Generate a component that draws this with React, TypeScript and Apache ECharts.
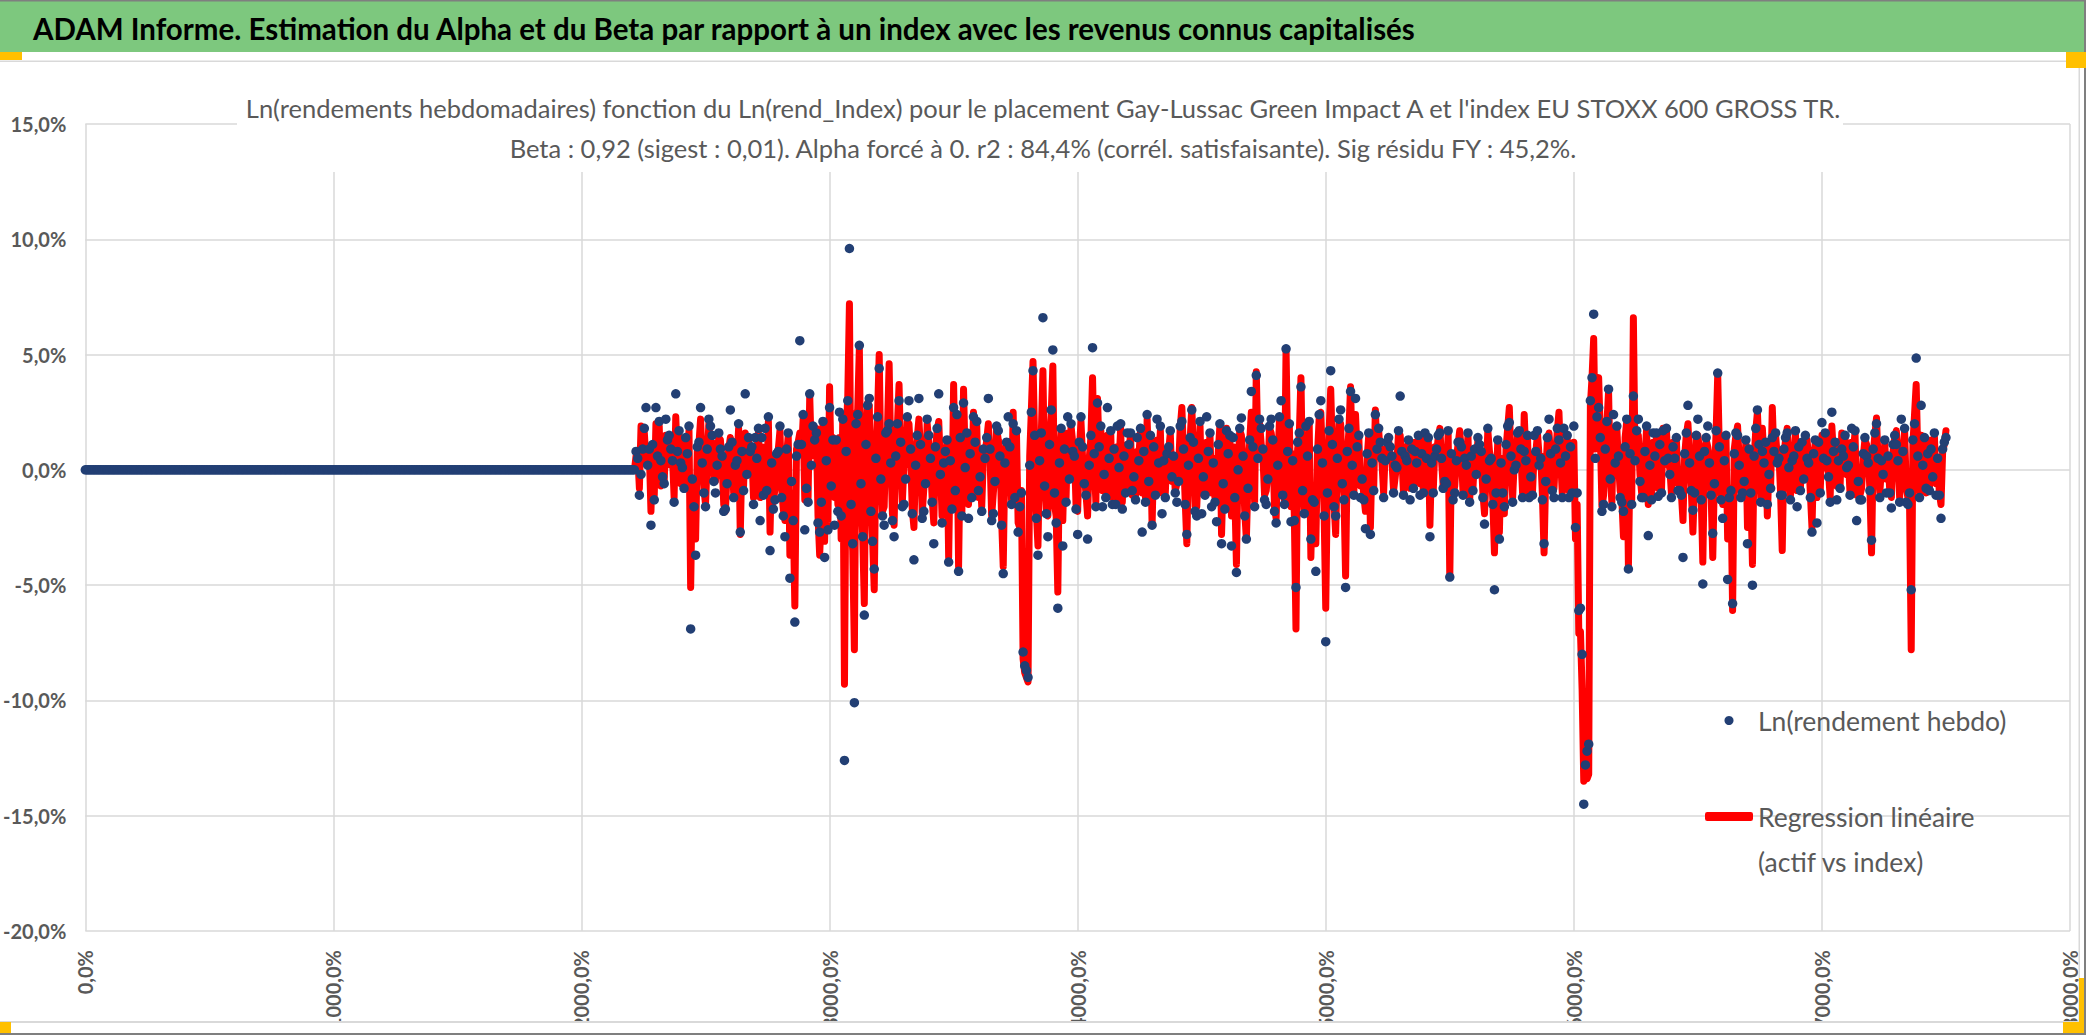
import { useEffect, useRef } from 'react'
import * as echarts from 'echarts'

const FONT = 'Lato, "Noto Sans", sans-serif'

const HEADER = 'ADAM Informe. Estimation du Alpha et du Beta par rapport à un index avec les revenus connus capitalisés'
const TITLE_LINES = [
  "Ln(rendements hebdomadaires) fonction du Ln(rend_Index) pour le placement Gay-Lussac Green Impact A et l'index EU STOXX 600 GROSS TR.",
  'Beta : 0,92 (sigest : 0,01). Alpha forcé à 0. r2 : 84,4% (corrél. satisfaisante). Sig résidu FY : 45,2%.',
]
const FUND_NAME = 'Ln(rendement hebdo)'
const REG_NAME = 'Regression linéaire (actif vs index)'
// leading blank line keeps the red icon level with the first line
const REG_LABEL = '\nRegression linéaire\n(actif vs index)'

// axis ranges (percent on y, obs number / 10 on x)
const yRange = [-20, 15]
const yStep = 5
const xRange = [0, 80]
const xStep = 10
const obsStep = 1 / 15

// weeks before the fund existed: returns are 0
const flatWeeks = [
  0, 0, 0, 0, 0, 0, 0, 0, 0, 0, 0, 0, 0, 0, 0, 0, 0, 0, 0, 0,
  0, 0, 0, 0, 0, 0, 0, 0, 0, 0, 0, 0, 0, 0, 0, 0, 0, 0, 0, 0,
  0, 0, 0, 0, 0, 0, 0, 0, 0, 0, 0, 0, 0, 0, 0, 0, 0, 0, 0, 0,
  0, 0, 0, 0, 0, 0, 0, 0, 0, 0, 0, 0, 0, 0, 0, 0, 0, 0, 0, 0,
  0, 0, 0, 0, 0, 0, 0, 0, 0, 0, 0, 0, 0, 0, 0, 0, 0, 0, 0, 0,
  0, 0, 0, 0, 0, 0, 0, 0, 0, 0, 0, 0, 0, 0, 0, 0, 0, 0, 0, 0,
  0, 0, 0, 0, 0, 0, 0, 0, 0, 0, 0, 0, 0, 0, 0, 0, 0, 0, 0, 0,
  0, 0, 0, 0, 0, 0, 0, 0, 0, 0, 0, 0, 0, 0, 0, 0, 0, 0, 0, 0,
  0, 0, 0, 0, 0, 0, 0, 0, 0, 0, 0, 0, 0, 0, 0, 0, 0, 0, 0, 0,
  0, 0, 0, 0, 0, 0, 0, 0, 0, 0, 0, 0, 0, 0, 0, 0, 0, 0, 0, 0,
  0, 0, 0, 0, 0, 0, 0, 0, 0, 0, 0, 0, 0, 0, 0, 0, 0, 0, 0, 0,
  0, 0, 0, 0, 0, 0, 0, 0, 0, 0, 0, 0, 0, 0, 0, 0, 0, 0, 0, 0,
  0, 0, 0, 0, 0, 0, 0, 0, 0, 0, 0, 0, 0, 0, 0, 0, 0, 0, 0, 0,
  0, 0, 0, 0, 0, 0, 0, 0, 0, 0, 0, 0, 0, 0, 0, 0, 0, 0, 0, 0,
  0, 0, 0, 0, 0, 0, 0, 0, 0, 0, 0, 0, 0, 0, 0, 0, 0, 0, 0, 0,
  0, 0, 0, 0, 0, 0, 0, 0, 0, 0, 0, 0, 0, 0, 0, 0, 0, 0, 0, 0,
  0, 0, 0, 0, 0, 0, 0, 0, 0, 0, 0, 0, 0,
]

// fund weekly log returns (%), one week in three (the marked highs and lows)
const fundMain = [
  0.8, -0.2, 2.7, -2.4, 2.7, 0.4, 2.2, 0.9, 3.3, 0.3,
  1.4, -6.9, -3.7, 2.7, -1.6, 1.9, -1.0, 0.9, -1.7, 2.6,
  0.2, -2.7, 3.3, 0.8, 1.4, -2.2, 1.8, -3.5, -1.3, 1.9,
  -2.9, -4.7, -6.6, 5.6, -2.6, 3.3, 1.3, -2.7, -3.8, 2.7,
  -2.4, 2.5, -12.6, 9.6, -10.1, 5.4, -6.3, 3.1, -4.3, 4.4,
  -2.4, 2.0, -2.9,
  3.0, -1.5, 3.0, -3.9, 3.1, -1.8, 1.5, -3.2, 3.3, 0.3,
  -4.0, 2.7, -4.4, 2.9, -2.1, 2.3, -0.9, 0.9, 3.1, -1.9,
  1.7, -4.5, 2.3, 2.0, -2.7, -7.9, -9.0, 4.3, -3.7, 6.6,
  -2.9, 5.2, -6.0, -3.3, 2.3, 0.8, -2.8, 1.0, -3.0, 5.3,
  2.9, -1.6, 2.7, -1.5, 1.9, -1.7, 1.6, -0.9, 1.4, -2.7,
  2.4, -2.4, 2.2, -1.9,
  0.7, -0.3, -1.4, 2.1, -2.8, 2.6, -2.0, -1.9, 2.3, -1.6,
  -2.25, -3.2, 1.7, -3.3, -4.45, 2.25, -3.0, 3.4, 4.1, 1.8,
  -1.5, 2.2, -2.3, 3.0, 5.25, -2.25, -5.1, 3.6, 1.9, -3.0,
  -4.4, 3.0, -7.45, 4.3, -2.0, 2.6, -5.1, 3.4, 3.1, -1.2,
  -2.55, -2.8, 2.4, 1.2, 0.4, 1.0, 0.2, 3.2, 0.6, -1.3,
  0.8, -1.1, 1.6, -2.9,
  0.6, 1.6, -0.5, -4.65, -1.0, 1.2, 0.5, -1.4, 0.9, 1.1,
  -2.35, 0.4, -5.2, -3.0, -1.6, 2.05, 0.0, 1.7, 0.8, -1.2,
  1.5, 0.2, -3.2, 2.2, -1.2, 1.3, 1.8, -1.2, 1.9, -6.1,
  -14.5, -11.9, 6.75, 2.7, -1.5, 3.5, 2.4, 0.6, -1.8, -4.3,
  3.2, 2.2, -1.2, -2.85, 1.6, -1.15, 1.7, 0.5, 1.0, -0.9,
  -3.8, 2.8, -1.75, 2.2, -4.95,
  1.9, -2.75, 4.2, -2.1, -4.75, -5.8, 1.5, -1.0, -3.2, -5.0,
  2.6, 0.8, -1.5, 1.4, 0.3, -1.1, 1.6, 0.4, -1.6, 1.2,
  0.5, -2.7, -2.3, 2.05, 0.4, 2.5, -1.3, 0.9, 0.1, 1.8,
  -2.2, -1.3, 0.6, -3.05, 2.0, 0.4, -1.0, -1.65, 1.1, 2.2,
  -1.4, -5.2, 4.85, 2.8, -0.8, 0.9, -1.1, -2.1, 1.4,
]

// fund returns for the two weeks that follow each fundMain week
const fundMid = [
  0.5, 0.9, 0.2, 1.1, 0.6, -0.3, 1.3, 0.4, 0.8, 0.1,
  0.7, -0.4, 1.0, 0.3, 0.9, 1.5, 0.2, 0.6, -0.6, 1.2,
  0.4, 0.8, -0.2, 1.0, 0.5, 1.4, -0.9, 0.3, 0.7, -1.2,
  0.9, -0.5, 0.6, 1.1, -0.8, 0.2, 1.6, -1.4, 0.4, -0.7,
  1.3, -2.0, 0.8, -1.5, 2.0, -0.6, 1.1, -1.8, 0.5, -0.4,
  1.6, 0.3,
  0.6, 1.2, -0.4, 0.9, 0.2, 1.1, -0.6, 0.5, 1.0, -0.2,
  0.8, 0.4, -0.9, 1.4, 0.1, 0.7, 1.2, -0.3, 0.5, 0.9,
  -0.5, 0.6, 0.3, 1.0, -1.2, -1.6, -8.5, 0.2, 1.5, 0.4,
  -0.7, 1.1, -1.0, 0.3, 0.9, -0.4, 0.6, 1.2, -0.6, 0.2,
  0.7, 1.0, -0.2, 0.5, 0.9, 0.1, 0.6, 1.1, -0.3, 0.4,
  0.8, -0.5, 1.0, 0.3,
  0.4, 1.0, 0.6, -0.5, 0.9, 0.2, 1.2, 0.5, -0.3, 0.8,
  0.3, 1.1, -0.6, 0.7, 1.4, 0.0, 0.6, -0.8, 1.0, 0.5,
  0.9, -0.4, 1.3, 0.2, -1.1, 0.8, 0.4, 1.2, -0.9, 0.6,
  -1.3, 0.9, 0.3, -1.0, 1.1, 0.5, -0.6, 0.8, 0.2, 1.0,
  -0.4, 0.7, 0.3, 0.9, 0.5, 1.2, 0.6, 0.1, 0.8, 0.4,
  0.9, 0.3, 0.7, 0.5,
  0.3, 0.9, 0.5, -0.6, 0.7, 0.4, 1.0, 0.2, 0.6, -0.2,
  0.8, -0.4, 0.5, -1.0, 0.3, 1.1, 0.6, 0.2, 0.9, 0.4,
  -0.3, 0.8, 0.5, -0.5, 0.7, 0.9, 0.3, 0.6, 1.0, -2.5,
  -6.0, -12.8, 3.0, 0.5, 1.4, 0.9, -0.4, 0.3, -1.2, 1.0,
  0.7, 0.4, -0.5, 0.8, 0.2, 0.6, 1.1, 0.4, -0.2, 0.5,
  -0.9, 0.7, 0.3, -1.0, 0.6,
  0.8, 0.3, -0.6, 1.0, 0.4, -1.2, 0.7, 0.2, -0.5, 0.9,
  0.6, 1.1, 0.3, -0.2, 0.8, 0.5, 0.9, 0.1, 0.6, 1.0,
  -0.4, 0.3, 0.7, 1.2, 0.5, -0.3, 0.8, 0.4, 0.6, 0.2,
  1.0, -0.5, 0.7, 0.3, 0.9, 0.5, -0.2, 0.6, 1.1, 0.4,
  0.8, -1.5, 1.3, 0.6, 0.2, 0.7, -0.3, 0.5, 0.9,
]

const fundExtra = [
  -1.1, 1.8, 0.9, -1.3, 2.1, -0.6, 1.5, -1.4, 1.7, -0.8,
  1.9, -1.6, 1.2, -1.0, 2.2, -0.5, 1.6, -1.8, 1.0, -1.2,
  2.0, -0.9, 1.4, -1.5, 1.8, -1.1, 2.3, -1.7, 0.8, -2.0,
  1.6, -2.2, 1.1, 2.4, -1.4, 1.9, -2.3, 2.1, -2.6, 1.3,
  -1.8, 2.2, 3.0, -3.2, 2.4, -2.9, 2.8, -3.1, 2.3, -2.0,
  1.7, -2.2,
  2.0, -1.6, 2.3, -1.9, 1.5, -2.1, 2.2, -1.4, 1.8, -2.3,
  1.3, -1.7, 2.4, -2.0, 1.6, -1.2, 2.1, -1.8, 1.4, -2.2,
  1.9, -2.4, 1.2, -1.5, 1.7, -1.0, -8.7, 2.5, -2.1, 1.6,
  -1.9, 2.6, -2.3, 1.8, -1.4, 2.0, -1.7, 2.3, -1.1, 1.5,
  -1.6, 1.9, -1.2, 1.7, -1.5, 2.0, -1.0, 1.6, -1.3, 1.8,
  -1.4, 1.5, -1.1, 1.9,
  -1.2, 1.7, -1.0, 1.9, -1.5, 1.4, -1.8, 2.1, -1.1, 1.6,
  -1.4, 2.0, -1.7, 1.5, -1.2, 1.8, -2.0, 1.3, -1.6, 2.2,
  -1.3, 1.9, -1.8, 2.3, -1.5, 2.0, -2.2, 1.6, -1.9, 2.1,
  -1.4, 2.4, -2.0, 1.7, -1.6, 2.2, -1.3, 1.8, -1.1, 1.5,
  -1.3, 1.6, -0.9, 1.8, -1.2, 1.4, -1.0, 1.7, -1.1, 1.3,
  -0.8, 1.5, -1.0, 1.4,
  -1.0, 1.5, -0.8, 1.7, -1.3, 1.2, -1.1, 1.6, -0.9, 1.4,
  -1.2, 1.8, -1.5, 1.3, -1.0, 1.9, -1.4, 1.6, -1.2, 1.5,
  -1.1, 1.7, -1.3, 1.4, -0.9, 1.8, -1.2, 1.5, -1.0, -1.0,
  -8.0, -12.2, 4.0, 2.3, -1.8, 2.1, -1.6, 1.9, -1.4, 2.2,
  -1.5, 1.7, -1.2, 1.9, -1.3, 1.6, -1.0, 1.8, -1.2, 1.4,
  -1.1, 1.6, -0.9, 1.5, -1.3,
  1.4, -1.1, 1.7, -1.3, 1.5, -0.9, 1.6, -1.2, 1.3, -1.0,
  1.8, -1.4, 1.2, -0.8, 1.6, -1.1, 1.4, -1.3, 1.7, -0.9,
  1.5, -1.2, 1.3, -1.0, 1.6, -1.4, 1.2, -0.8, 1.5, -1.1,
  1.7, -1.3, 1.4, -0.9, 1.6, -1.2, 1.3, -1.0, 1.5, -1.4,
  1.8, -1.0, 2.0, -1.2, 1.4, -0.9, 1.6, -1.1, 1.2,
]

// regression values (beta x index), same weeks as the fund arrays
const regMain = [
  0.6, 1.9, 0.4, -1.8, 2.0, -0.7, 1.5, 0.2, 2.3, -0.6,
  1.2, -5.1, -3.0, 2.2, -1.5, 1.0, -0.5, 1.3, -1.8, 1.4,
  0.6, -2.8, 1.6, 0.3, 1.0, -1.2, 0.9, -2.7, -0.8, 1.7,
  -2.2, -3.7, -5.9, 1.6, -1.3, 3.2, 1.4, -3.7, -3.1, 3.6,
  -1.2, 1.4, -9.3, 7.2, -7.8, 5.3, -5.8, 2.8, -5.2, 5.0,
  -1.6, 4.6, -2.4,
  3.7, 0.3, 2.0, -2.5, 2.2, -0.8, 1.2, -2.3, 2.1, 0.5,
  -3.8, 3.7, -4.2, 3.5, -1.5, 2.5, -1.2, 0.6, 2.0, -1.0,
  1.3, -4.2, 1.2, 2.5, -2.3, -8.2, -9.2, 4.7, -3.3, 4.3,
  -2.0, 4.5, -5.3, -2.2, 1.6, 1.2, -1.8, 0.5, -2.0, 4.0,
  3.1, -0.9, 1.5, -1.2, 1.0, -1.4, 1.1, -1.1, 0.8, -1.0,
  2.2, -2.4, 1.3, -1.0,
  0.9, -0.5, -0.6, 2.7, -3.2, 2.7, -1.6, -1.0, 1.2, -1.0,
  -1.2, -2.8, 1.8, -2.0, -4.1, 1.5, -3.0, 2.5, 4.25, 1.1,
  -0.9, 1.6, -2.1, 2.1, 5.25, -1.6, -6.9, 4.0, 1.2, -3.8,
  -3.2, 2.5, -6.0, 3.5, -2.8, 2.0, -4.6, 3.6, 2.4, -0.7,
  -1.8, -2.5, 2.6, 0.7, 0.9, 0.5, -0.3, 1.5, 1.0, -0.8,
  1.2, -0.6, 1.6, -2.4,
  1.0, 1.8, -0.2, -4.65, -0.7, 1.7, 0.2, -1.4, 0.6, 0.3,
  -1.9, 0.8, -3.6, -2.7, -1.9, 2.7, 0.4, 1.5, 2.4, -1.0,
  0.7, 0.6, -3.6, 1.6, -0.8, 2.5, 0.9, -0.9, 1.2, -7.1,
  -13.5, -13.2, 5.7, 4.0, -1.1, 3.4, 1.8, 0.3, -2.9, -4.2,
  6.6, 1.5, -0.6, -1.5, 1.2, -0.8, 1.8, 0.2, 1.2, -0.6,
  -2.2, 2.0, -2.7, 1.5, -4.0,
  1.0, -3.8, 4.1, -1.5, -3.0, -6.1, 1.9, -0.6, -2.5, -4.1,
  2.5, 1.8, -2.0, 2.7, 0.6, -3.5, 1.8, -0.4, -0.9, 0.9,
  1.3, -2.5, -1.2, 1.5, 0.1, 1.9, -0.7, 1.6, -0.2, 1.2,
  -1.1, -0.8, 1.1, -3.6, 2.25, 0.1, -0.4, -1.2, 1.7, 0.9,
  -0.8, -7.8, 3.7, 1.5, -1.0, 1.3, -0.6, -1.5, 1.7,
]

const regMid = [
  0.7, 0.4, 0.5, 0.8, 0.3, 0.1, 0.9, 0.6, 0.4, 0.5,
  0.3, -0.6, 0.8, 0.5, 0.4, 1.2, 0.6, 0.3, -0.2, 0.9,
  0.5, 0.6, 0.1, 0.7, 0.8, 1.0, -0.5, 0.5, 0.4, -0.8,
  0.6, -1.0, 0.9, 0.7, -0.4, 0.6, 1.8, -1.9, 1.0, -0.3,
  0.9, -3.0, 1.5, -2.2, 2.4, -1.2, 1.6, -1.0, 0.9, 0.2,
  1.2, 0.6,
  0.9, 0.7, 0.2, 0.6, 0.5, 0.8, -0.2, 0.4, 0.8, 0.3,
  0.5, 0.9, -0.5, 1.0, 0.4, 0.5, 0.8, -0.1, 0.7, 0.6,
  -0.2, 0.9, 0.5, 0.7, -1.5, -2.5, -8.8, 0.6, 1.2, 0.8,
  -0.4, 1.3, -1.5, 0.6, 0.7, -0.1, 0.9, 0.8, -0.3, 0.5,
  0.4, 0.7, 0.1, 0.8, 0.6, 0.3, 0.4, 0.9, 0.0, 0.6,
  0.5, -0.2, 0.7, 0.4,
  0.6, 0.8, 0.3, 0.1, 0.7, 0.5, 0.9, 0.2, 0.1, 0.6,
  0.5, 0.8, -0.2, 0.4, 1.0, 0.3, 0.5, -0.4, 0.8, 0.7,
  0.6, -0.1, 1.1, 0.4, -0.7, 0.6, 0.7, 0.9, -0.5, 0.4,
  -0.8, 0.7, 0.6, -0.6, 0.9, 0.3, -0.2, 0.6, 0.5, 0.7,
  -0.1, 0.5, 0.6, 0.7, 0.3, 0.9, 0.4, 0.3, 0.6, 0.6,
  0.7, 0.5, 0.5, 0.4,
  0.5, 0.7, 0.4, -0.3, 0.6, 0.5, 0.8, 0.4, 0.5, 0.1,
  0.6, -0.2, 0.4, -0.8, 0.5, 0.9, 0.4, 0.5, 0.7, 0.6,
  -0.1, 0.7, 0.6, -0.2, 0.5, 0.7, 0.5, 0.4, 0.8, -3.0,
  -7.0, -13.0, 2.8, 0.9, 1.6, 0.7, -0.2, 0.5, -0.9, 1.4,
  0.6, 0.5, -0.2, 0.6, 0.4, 0.5, 0.9, 0.6, 0.1, 0.4,
  -0.5, 0.6, 0.5, -0.6, 0.8,
  0.6, 0.5, -0.3, 0.8, 0.2, -0.9, 0.9, 0.4, -0.2, 0.7,
  0.5, 0.8, 0.4, 0.1, 0.6, 0.7, 0.6, 0.3, 0.5, 0.8,
  -0.1, 0.5, 0.5, 0.9, 0.4, -0.1, 0.6, 0.5, 0.4, 0.4,
  0.8, -0.2, 0.6, 0.5, 0.7, 0.3, 0.0, 0.5, 0.8, 0.6,
  0.6, -1.2, 1.1, 0.5, 0.4, 0.6, -0.1, 0.4, 0.8,
]

const regExtra = [
  -0.8, 1.6, 0.8, -1.1, 1.9, -0.5, 1.3, -1.2, 1.5, -0.6,
  1.7, -1.3, 1.1, -0.8, 2.0, -0.4, 1.4, -1.5, 0.9, -1.0,
  1.8, -0.7, 1.3, -1.2, 1.6, -0.9, 2.1, -1.4, 0.9, -1.7,
  1.5, -1.9, 1.2, 2.2, -1.2, 1.8, -2.0, 2.0, -2.3, 1.4,
  -1.5, 2.4, 3.2, -3.5, 2.6, -2.8, 2.9, -3.0, 2.4, -1.8,
  1.8, -1.9,
  1.9, -1.4, 2.1, -1.7, 1.4, -1.9, 2.0, -1.2, 1.7, -2.0,
  1.2, -1.5, 2.2, -1.8, 1.5, -1.0, 1.9, -1.6, 1.3, -2.0,
  1.8, -2.1, 1.1, -1.3, 1.6, -0.9, -9.0, 2.6, -1.8, 1.5,
  -1.7, 2.4, -2.0, 1.7, -1.2, 1.9, -1.5, 2.1, -1.0, 1.4,
  -1.4, 1.7, -1.0, 1.6, -1.3, 1.8, -0.9, 1.5, -1.1, 1.7,
  -1.2, 1.4, -1.0, 1.7,
  -1.0, 1.6, -0.9, 1.8, -1.3, 1.3, -1.6, 1.9, -1.0, 1.5,
  -1.2, 1.9, -1.5, 1.4, -1.0, 1.7, -1.8, 1.2, -1.4, 2.0,
  -1.1, 1.8, -1.6, 2.1, -1.3, 1.9, -2.0, 1.5, -1.7, 2.0,
  -1.2, 2.2, -1.8, 1.6, -1.4, 2.0, -1.1, 1.7, -1.0, 1.4,
  -1.1, 1.5, -0.8, 1.7, -1.0, 1.3, -0.9, 1.6, -1.0, 1.2,
  -0.7, 1.4, -0.9, 1.3,
  -0.9, 1.4, -0.7, 1.6, -1.1, 1.1, -1.0, 1.5, -0.8, 1.3,
  -1.0, 1.7, -1.3, 1.2, -0.9, 1.8, -1.2, 1.5, -1.0, 1.4,
  -1.0, 1.6, -1.1, 1.3, -0.8, 1.7, -1.0, 1.4, -0.9, -1.5,
  -9.5, -13.4, 4.0, 2.6, -1.6, 2.0, -1.4, 1.8, -1.2, 2.1,
  -1.3, 1.6, -1.0, 1.8, -1.1, 1.5, -0.9, 1.7, -1.0, 1.3,
  -1.0, 1.5, -0.8, 1.4, -1.1,
  1.3, -1.0, 1.6, -1.1, 1.4, -0.8, 1.5, -1.0, 1.2, -0.9,
  1.7, -1.2, 1.1, -0.7, 1.5, -1.0, 1.3, -1.1, 1.6, -0.8,
  1.4, -1.0, 1.2, -0.9, 1.5, -1.2, 1.1, -0.7, 1.4, -1.0,
  1.6, -1.1, 1.3, -0.8, 1.5, -1.0, 1.2, -0.9, 1.4, -1.2,
  1.7, -1.5, 2.4, -1.0, 1.3, -0.8, 1.5, -1.0, 1.1,
]

// main week, then the two weeks that follow it
function weave(main: number[], mid: number[], extra: number[]): number[] {
  const out: number[] = []
  main.forEach((v, k) => {
    out.push(v)
    if (k < mid.length) out.push(mid[k])
    if (k < extra.length) out.push(extra[k])
  })
  return out
}

function toPoints(values: number[]): [number, number][] {
  return values.map((v, k) => [k * obsStep, v])
}

function pct(v: number): string {
  return v.toFixed(1).replace('.', ',') + '%'
}

const fundPts = toPoints(flatWeeks.concat(weave(fundMain, fundMid, fundExtra)))
const regPts = toPoints(flatWeeks.concat(weave(regMain, regMid, regExtra)))

const GRID = '#D9D9D9'
const TEXT = '#595959'

function buildOption() {
  return {
    animation: false,
    backgroundColor: '#ffffff',
    title: [
      {
        text: HEADER,
        left: 33,
        top: 8,
        padding: 0,
        z: 10,
        textStyle: { fontFamily: FONT, fontSize: 29.5, fontWeight: 'bold', color: '#000000', lineHeight: 40 },
      },
      {
        text: TITLE_LINES.join('\n'),
        left: 'center',
        top: 88,
        padding: 0,
        z: 10,
        textStyle: { fontFamily: FONT, fontSize: 25.5, fontWeight: 'normal', color: TEXT, lineHeight: 40 },
      },
    ],
    legend: {
      orient: 'vertical',
      left: 1700,
      top: 693,
      itemWidth: 48,
      itemHeight: 9,
      itemGap: 6,
      selectedMode: false,
      textStyle: { fontFamily: FONT, fontSize: 26.5, color: TEXT, lineHeight: 45 },
      formatter: (n: string) => (n === REG_NAME ? REG_LABEL : n),
      data: [
        { name: FUND_NAME, icon: 'circle' },
        { name: REG_NAME, icon: 'roundRect' },
      ],
    },
    grid: { left: 80, top: 124, width: 1990, height: 807 },
    xAxis: {
      type: 'value',
      min: xRange[0],
      max: xRange[1],
      interval: xStep,
      axisLine: { show: false },
      axisTick: { show: false },
      splitLine: { show: true, lineStyle: { color: GRID, width: 1.5 } },
      axisLabel: {
        rotate: 90,
        margin: 19,
        fontFamily: FONT,
        fontSize: 20,
        fontWeight: 'bold',
        color: TEXT,
        formatter: (v: number) => pct(v * 100),
      },
    },
    yAxis: {
      type: 'value',
      min: yRange[0],
      max: yRange[1],
      interval: yStep,
      axisLine: { show: false },
      axisTick: { show: false },
      splitLine: { show: true, lineStyle: { color: GRID, width: 1.5 } },
      axisLabel: {
        margin: 19,
        fontFamily: FONT,
        fontSize: 20,
        fontWeight: 'bold',
        color: TEXT,
        formatter: (v: number) => pct(v),
      },
    },
    graphic: [
      // green banner
      { type: 'rect', z: 0, silent: true, shape: { x: 0, y: 0, width: 2086, height: 52 }, style: { fill: '#7DC87E' } },
      { type: 'rect', z: 0, silent: true, shape: { x: 0, y: 0, width: 2086, height: 1.5 }, style: { fill: '#7F7F7F' } },
      // white box behind the chart title
      { type: 'rect', z: 1, silent: true, shape: { x: 237, y: 84, width: 1606, height: 88 }, style: { fill: '#ffffff' } },
      // chart frame
      { type: 'rect', z: 50, silent: true, shape: { x: 0, y: 60.5, width: 2080, height: 1.5 }, style: { fill: GRID } },
      { type: 'rect', z: 50, silent: true, shape: { x: 0, y: 1022, width: 2086, height: 13 }, style: { fill: '#ffffff' } },
      { type: 'rect', z: 51, silent: true, shape: { x: 0, y: 1021, width: 2080, height: 2 }, style: { fill: GRID } },
      { type: 'rect', z: 51, silent: true, shape: { x: 2078.5, y: 61, width: 1.5, height: 961 }, style: { fill: GRID } },
      { type: 'rect', z: 52, silent: true, shape: { x: 2084, y: 0, width: 2, height: 1035 }, style: { fill: '#7F7F7F' } },
      { type: 'rect', z: 52, silent: true, shape: { x: 0, y: 1033, width: 2086, height: 2 }, style: { fill: '#7F7F7F' } },
      // selection handles
      { type: 'rect', z: 53, silent: true, shape: { x: 0, y: 52, width: 22, height: 8 }, style: { fill: '#FFC000' } },
      { type: 'rect', z: 53, silent: true, shape: { x: 2066, y: 52, width: 20, height: 16 }, style: { fill: '#FFC000' } },
      { type: 'rect', z: 53, silent: true, shape: { x: 0, y: 1022, width: 11, height: 11 }, style: { fill: '#FFC000' } },
      { type: 'rect', z: 53, silent: true, shape: { x: 2079, y: 978, width: 5, height: 55 }, style: { fill: '#FFC000' } },
      { type: 'rect', z: 53, silent: true, shape: { x: 2063, y: 1022, width: 21, height: 11 }, style: { fill: '#FFC000' } },
    ],
    series: [
      {
        name: REG_NAME,
        type: 'line',
        data: regPts,
        showSymbol: false,
        symbol: 'none',
        silent: true,
        z: 2,
        itemStyle: { color: '#FF0000' },
        lineStyle: { color: '#FF0000', width: 7, cap: 'round', join: 'round' },
      },
      {
        name: FUND_NAME,
        type: 'scatter',
        data: fundPts,
        symbolSize: 9.5,
        silent: true,
        z: 3,
        itemStyle: { color: '#223F74', opacity: 1 },
      },
    ],
  }
}

export default function App() {
  const hostRef = useRef<HTMLDivElement | null>(null)

  useEffect(() => {
    const host = hostRef.current
    if (!host) return
    const chart = echarts.init(host, undefined, { renderer: 'svg' })
    chart.setOption(buildOption() as any)
    return () => {
      chart.dispose()
    }
  }, [])

  return <div ref={hostRef} style={{ position: 'absolute', left: 0, top: 0, width: 2086, height: 1035 }} />
}
